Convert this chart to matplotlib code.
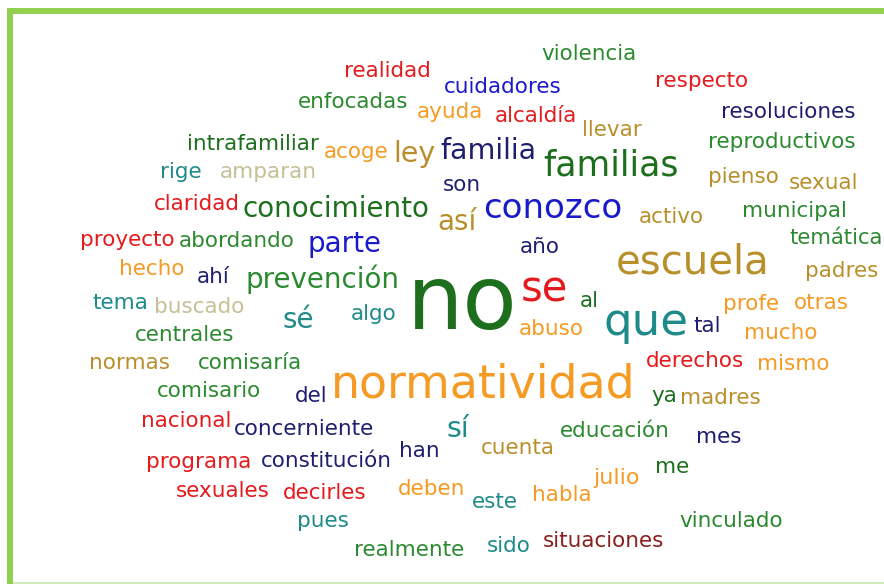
import matplotlib
matplotlib.use("Agg")
import matplotlib.pyplot as plt
from matplotlib.patches import Rectangle

# word cloud terms and their weight (font size, pt)
words = [
    "violencia", "realidad", "cuidadores", "respecto", "enfocadas", "ayuda",
    "alcaldía", "resoluciones", "llevar", "intrafamiliar", "acoge", "ley",
    "familia", "reproductivos", "familias", "rige", "amparan", "pienso",
    "sexual", "son", "claridad", "conocimiento", "así", "conozco", "activo",
    "municipal", "proyecto", "abordando", "parte", "año", "temática", "hecho",
    "ahí", "prevención", "escuela", "padres", "tema", "buscado", "se", "al",
    "profe", "otras", "no", "sé", "algo", "que", "tal", "centrales", "abuso",
    "mucho", "normas", "comisaría", "derechos", "mismo", "comisario", "del",
    "normatividad", "ya", "madres", "nacional", "concerniente", "sí",
    "educación", "mes", "han", "cuenta", "programa", "constitución", "me",
    "julio", "sexuales", "decirles", "deben", "habla", "este", "pues",
    "vinculado", "realmente", "sido", "situaciones",
]
weights = [
    15.5, 15.5, 15.5, 15.5, 15.5, 15.5,
    15.5, 15.5, 15.5, 15.5, 15.5, 20.5,
    20.5, 15.5, 25, 15.5, 15.5, 15.5,
    15.5, 15.5, 15.5, 20, 20, 24.5, 15.5,
    15.5, 15.5, 15.5, 20, 15.5, 15.2, 15.5,
    15.5, 20, 29, 15.5, 15.5, 15.5, 30, 15.5,
    15.5, 15.5, 64, 20, 15.5, 32.5, 15.5, 15.5, 15.5,
    15.5, 15.5, 15.5, 15.5, 15.5, 15.5, 15.5,
    33, 15.5, 15.5, 15.5, 15.5, 20.5,
    15.5, 15.5, 15.5, 15.5, 15.5, 15.5, 15.5,
    16, 15.5, 15.5, 15.5, 15.5, 15.5, 15.5,
    15.5, 15.5, 15.5, 15.5,
]

# layout: left edge and baseline of each word, in pixels
x_pos = [
    541, 344, 444, 655, 298, 417,
    495, 721, 582, 187, 324, 393,
    440, 708, 543, 160, 220, 708,
    789, 443, 154, 243, 437, 483, 639,
    742, 80, 179, 307, 520, 789, 119,
    197, 246, 616, 805, 92, 154, 521, 580,
    723, 794, 407, 283, 351, 604, 693, 135, 519,
    744, 89, 198, 646, 757, 157, 295,
    331, 651, 680, 141, 234, 447,
    560, 696, 399, 481, 146, 261, 655,
    593, 176, 283, 398, 532, 472, 297,
    679, 354, 487, 543,
]
y_pos = [
    60, 77, 93, 87, 108, 118,
    122, 118, 136, 150, 158, 162,
    159, 148, 176, 178, 178, 183,
    189, 191, 210, 217, 230, 218, 223,
    217, 246, 247, 252, 253, 244, 275,
    283, 288, 274, 277, 309, 313, 302, 307,
    310, 309, 329, 328, 320, 335, 332, 341, 335,
    339, 369, 369, 367, 370, 397, 402,
    397, 402, 404, 427, 435, 437,
    437, 443, 457, 454, 468, 467, 473,
    484, 497, 499, 495, 501, 508, 527,
    527, 556, 552, 547,
]

colors = {
    "R": "#e41a1c", "DR": "#8b1e1e", "O": "#f59a23", "Y": "#b88f2b",
    "K": "#c5c096", "T": "#1f8a8a", "B": "#1a1acc", "N": "#1f1f70",
    "G": "#2b8a2f", "DG": "#1d6f1d",
}
color_keys = [
    "G", "R", "B", "R", "G", "O",
    "R", "N", "Y", "DG", "O", "Y",
    "N", "G", "DG", "T", "K", "Y",
    "Y", "N", "R", "DG", "Y", "B", "Y",
    "G", "R", "G", "B", "N", "G", "O",
    "N", "G", "Y", "Y", "T", "K", "R", "DG",
    "O", "O", "DG", "T", "T", "T", "N", "G", "O",
    "O", "Y", "G", "R", "O", "G", "N",
    "O", "DG", "Y", "R", "N", "T",
    "G", "N", "N", "Y", "R", "N", "DG",
    "O", "R", "R", "O", "O", "T", "T",
    "G", "G", "T", "DR",
]

W, H = 884, 584
fig = plt.figure(figsize=(W / 100, H / 100), dpi=100)
ax = fig.add_axes([0, 0, 1, 1])
ax.set_xlim(0, W)
ax.set_ylim(H, 0)
ax.axis("off")

# green frame (left and top), faint line at the bottom
ax.add_patch(Rectangle((7, 8), 6, H - 8, color="#92d050", lw=0))
ax.add_patch(Rectangle((7, 8), W - 7, 6, color="#92d050", lw=0))
ax.add_patch(Rectangle((13, 582), W - 13, 2, color="#cfe9b8", lw=0))

for w, s, x, y, c in zip(words, weights, x_pos, y_pos, color_keys):
    ax.text(x, y, w, fontsize=s, color=colors[c], ha="left", va="baseline",
            family="DejaVu Sans")

fig.savefig("out.png", dpi=100)
